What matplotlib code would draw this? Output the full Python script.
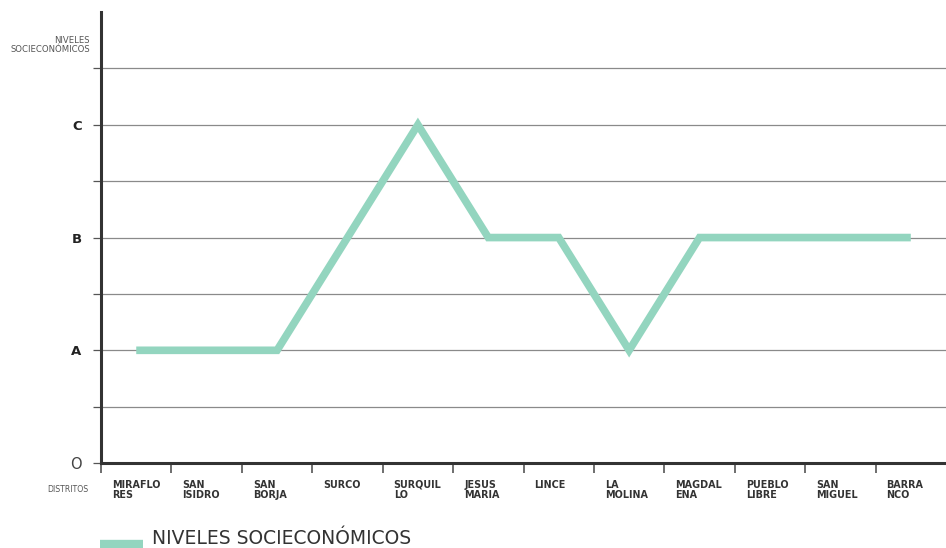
import numpy as np
import matplotlib
matplotlib.use("Agg")
import matplotlib.pyplot as plt
import matplotlib.transforms as mtransforms

plt.rcParams['font.family'] = ['DejaVu Sans']

# data
distritos = ["MIRAFLO\nRES", "SAN\nISIDRO", "SAN\nBORJA", "SURCO", "SURQUIL\nLO",
             "JESUS\nMARIA", "LINCE", "LA\nMOLINA", "MAGDAL\nENA", "PUEBLO\nLIBRE",
             "SAN\nMIGUEL", "BARRA\nNCO"]
niveles = [2, 2, 2, 4, 6, 4, 4, 2, 4, 4, 4, 4]
y_ticks = [0, 1, 2, 3, 4, 5, 6, 7]
y_labels = ["O", "", "A", "", "B", "", "C", ""]

teal = "#93d5bf"
dark = "#333333"

fig = plt.figure(figsize=(9.46, 5.48), dpi=100)
ax = fig.add_axes([0.1068, 0.155, 0.8932, 0.823])

x = np.arange(len(distritos))
ax.plot(x, niveles, color=teal, lw=5.5, solid_capstyle='butt', solid_joinstyle='miter', zorder=3)

ax.set_xlim(-0.5, len(distritos) - 0.5)
ax.set_ylim(0, 8)

# gridlines
for yv in y_ticks[1:]:
    ax.axhline(yv, color="#8a8a8a", lw=0.9, zorder=1)

for s in ["top", "right"]:
    ax.spines[s].set_visible(False)
for s in ["left", "bottom"]:
    ax.spines[s].set_color(dark)
    ax.spines[s].set_linewidth(2.2)
ax.spines["bottom"].set_zorder(4)

ax.set_yticks(y_ticks)
ax.set_yticklabels(y_labels)
ax.tick_params(axis='y', direction='out', length=6, width=0.9, color="#555555",
               pad=8, labelsize=9.5, labelcolor="#222222")
for lbl in ax.get_yticklabels():
    if lbl.get_text() in ("A", "B", "C"):
        lbl.set_fontweight('bold')
    else:
        lbl.set_fontsize(10.5)
        lbl.set_color("#444444")

# x labels at band left edges
ax.set_xticks(x - 0.5)
ax.set_xticklabels(distritos)
ax.tick_params(axis='x', direction='out', length=7, width=1.2, color="#555555",
               pad=5, labelsize=6.9, labelcolor="#333333")
offset = mtransforms.ScaledTranslation(11 / 100, 0, fig.dpi_scale_trans)
for lbl in ax.get_xticklabels():
    lbl.set_horizontalalignment('left')
    lbl.set_verticalalignment('top')
    lbl.set_fontweight('bold')
    lbl.set_linespacing(1.05)
    lbl.set_transform(lbl.get_transform() + offset)

fig.text(90 / 946, 1 - 45 / 548, "NIVELES\nSOCIECONÓMICOS", ha='right', va='center',
         fontsize=6.1, color="#555555", linespacing=0.9)
fig.text(88 / 946, 1 - 489 / 548, "DISTRITOS", ha='right', va='center',
         fontsize=5.6, color="#555555")

# legend
fig.add_artist(plt.Line2D([100 / 946, 143 / 946], [1 - 544 / 548, 1 - 544 / 548],
                          color=teal, lw=6, solid_capstyle='butt'))
fig.text(152 / 946, 1 - 539 / 548, "NIVELES SOCIECONÓMICOS", ha='left', va='center',
         fontsize=13.5, color=dark)

fig.savefig("out.png", dpi=100)
